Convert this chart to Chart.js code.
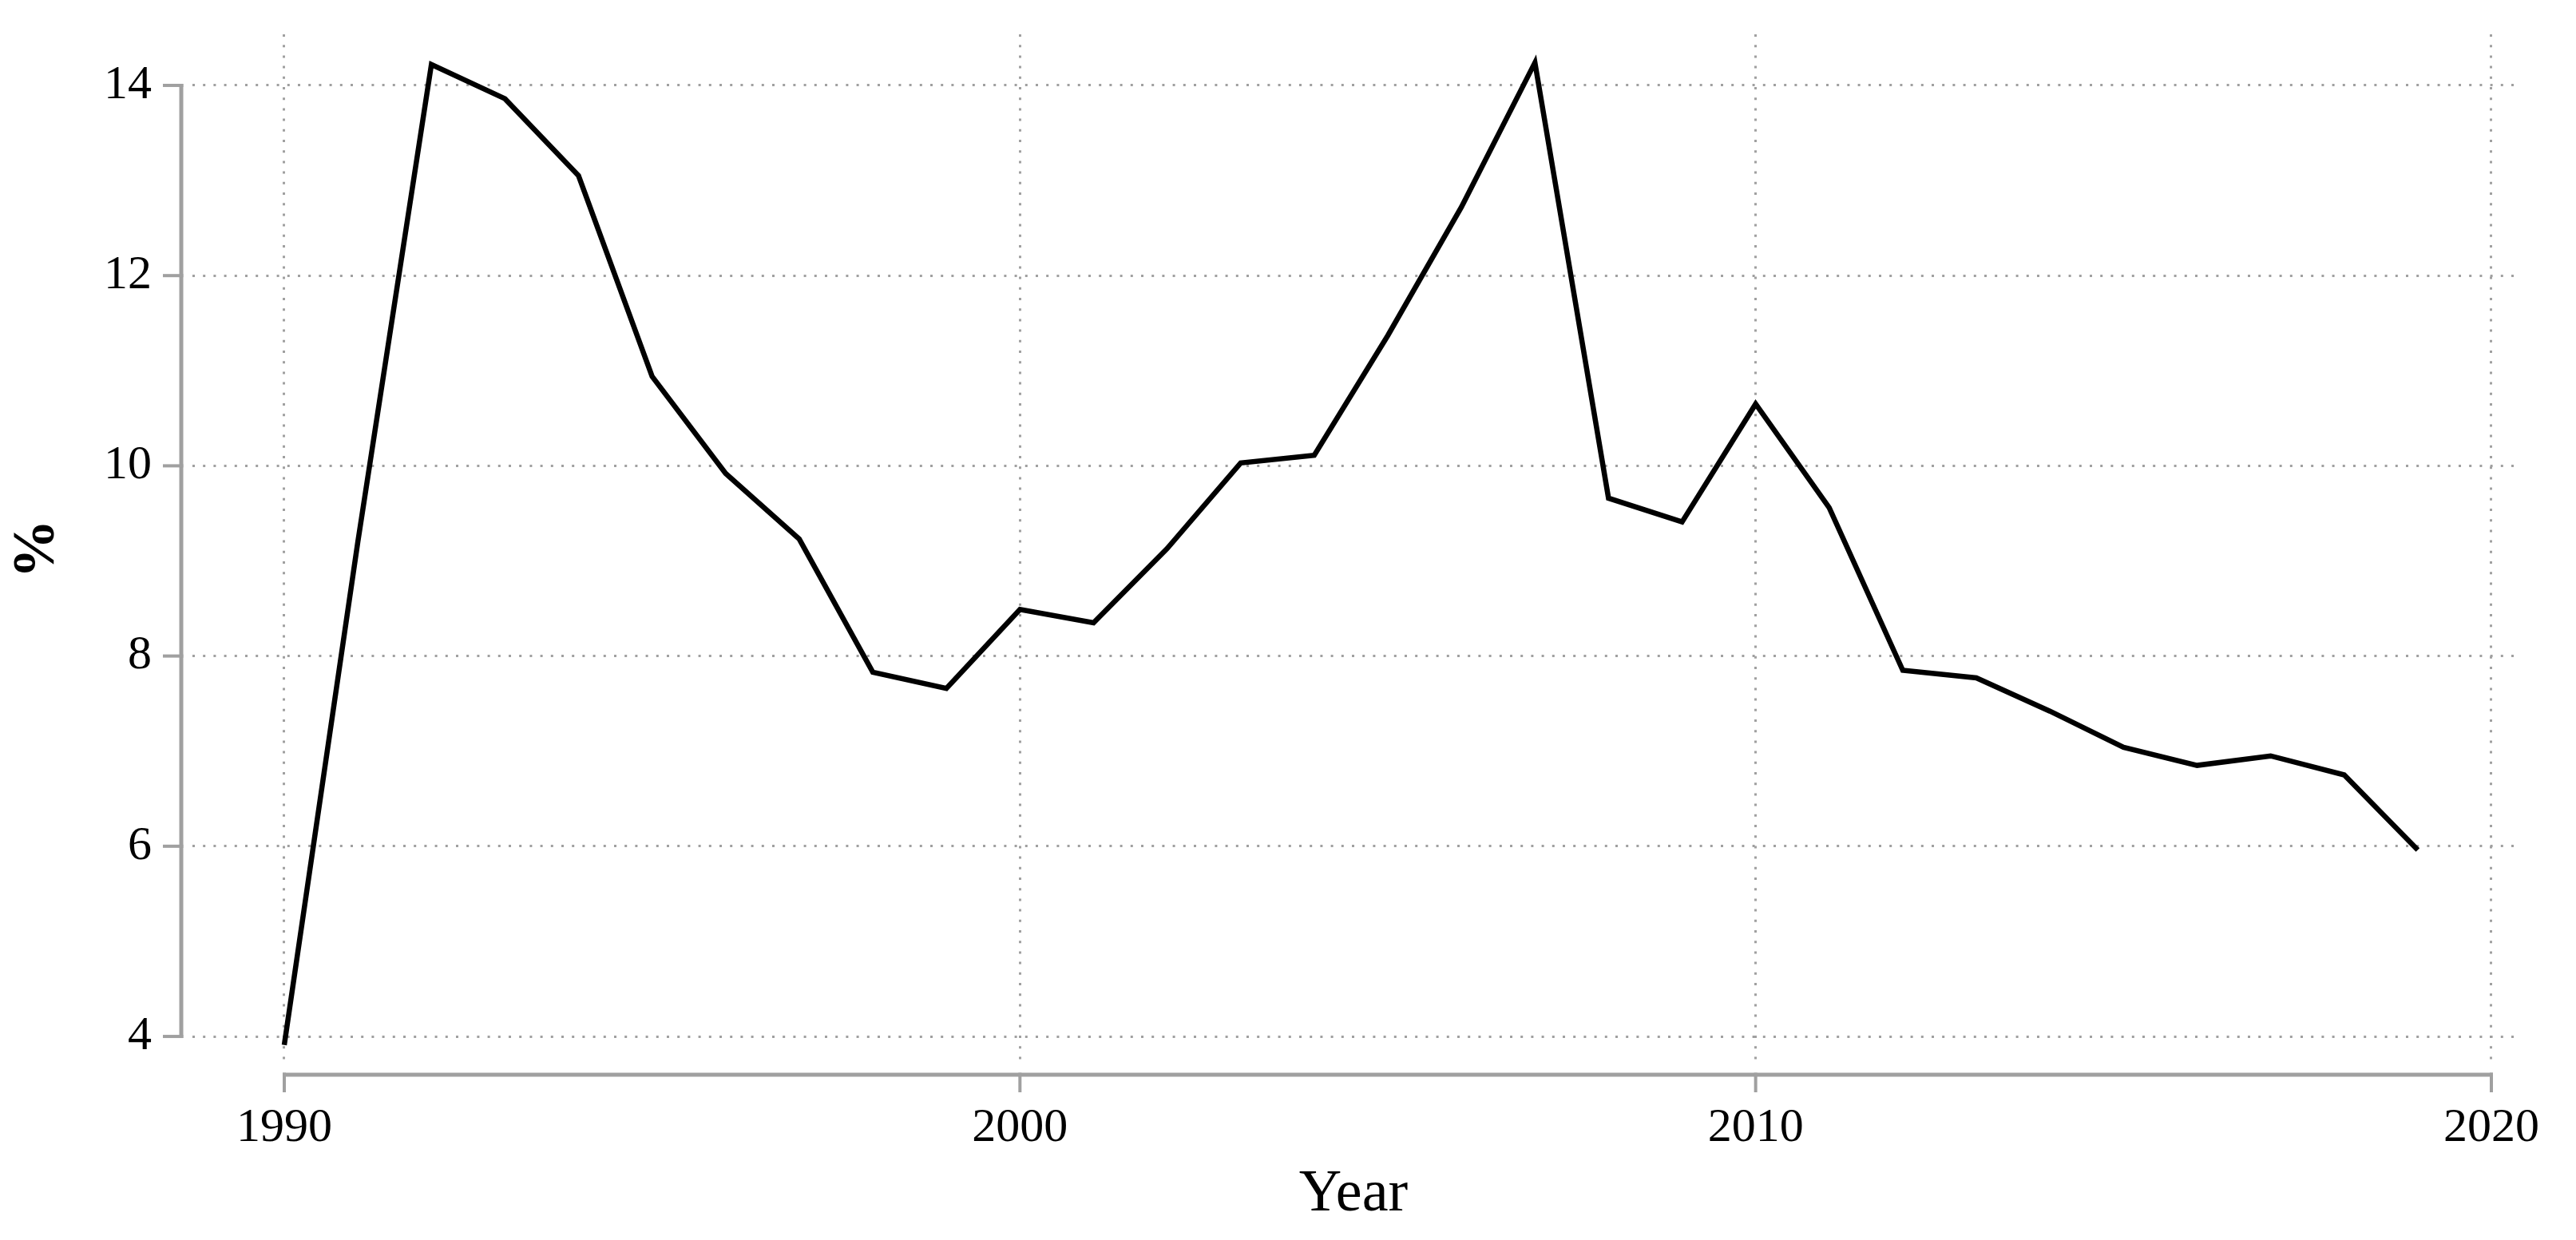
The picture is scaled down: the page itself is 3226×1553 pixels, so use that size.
<!DOCTYPE html>
<html>
<head>
<meta charset="utf-8">
<script src="https://cdn.jsdelivr.net/npm/chart.js@4/dist/chart.umd.min.js"></script>
<style>
  html, body { margin: 0; padding: 0; background: #ffffff; }
  #wrap { width: 3226px; height: 1553px; }
</style>
</head>
<body>
<div id="wrap"><canvas id="c" width="3226" height="1553"></canvas></div>
<script>
// ---- data ----
const years = [1990,1991,1992,1993,1994,1995,1996,1997,1998,1999,2000,2001,2002,2003,2004,2005,2006,2007,2008,2009,2010,2011,2012,2013,2014,2015,2016,2017,2018,2019];
const values = [3.91,9.2,14.22,13.86,13.05,10.94,9.92,9.23,7.83,7.66,8.49,8.35,9.13,10.03,10.11,11.37,12.72,14.24,9.66,9.41,10.65,9.56,7.85,7.77,7.42,7.04,6.85,6.95,6.75,5.96];
const xTicks = [1990, 2000, 2010, 2020];
const yTicks = [4, 6, 8, 10, 12, 14];
const xTitle = "Year";
const yTitle = "%";

const GRAY = '#a0a0a0';
const FONT = "'Liberation Serif', 'Times New Roman', serif";

const axisPlugin = {
  id: 'stataAxes',
  afterDraw(chart) {
    const ctx = chart.ctx;
    const xs = chart.scales.x, ys = chart.scales.y;
    const ca = chart.chartArea;
    ctx.save();
    ctx.strokeStyle = GRAY;
    ctx.lineCap = 'butt';
    // y axis
    const ax = ca.left - 14;
    const yTop = ys.getPixelForValue(yTicks[yTicks.length - 1]);
    const yBot = ys.getPixelForValue(yTicks[0]);
    ctx.lineWidth = 5;
    ctx.beginPath();
    ctx.moveTo(ax, yTop - 2);
    ctx.lineTo(ax, yBot + 2);
    ctx.stroke();
    ctx.lineWidth = 4;
    yTicks.forEach(v => {
      const p = ys.getPixelForValue(v);
      ctx.beginPath();
      ctx.moveTo(ax - 23, p);
      ctx.lineTo(ax + 2.5, p);
      ctx.stroke();
    });
    // x axis
    const ay = ca.bottom + 14;
    const xL = xs.getPixelForValue(xTicks[0]);
    const xR = xs.getPixelForValue(xTicks[xTicks.length - 1]);
    ctx.lineWidth = 5;
    ctx.beginPath();
    ctx.moveTo(xL - 2, ay);
    ctx.lineTo(xR + 2, ay);
    ctx.stroke();
    ctx.lineWidth = 4;
    xTicks.forEach(v => {
      const p = xs.getPixelForValue(v);
      ctx.beginPath();
      ctx.moveTo(p, ay - 2.5);
      ctx.lineTo(p, ay + 22);
      ctx.stroke();
    });
    ctx.restore();
  }
};

new Chart(document.getElementById('c'), {
  type: 'line',
  data: {
    datasets: [{
      data: years.map((y, i) => ({ x: y, y: values[i] })),
      borderColor: '#000000',
      borderWidth: 6.5,
      borderJoinStyle: 'miter',
      borderCapStyle: 'butt',
      pointRadius: 0,
      tension: 0,
      fill: false
    }]
  },
  options: {
    responsive: false,
    animation: false,
    devicePixelRatio: 1,
    layout: { padding: { left: 0, top: 43, right: 77, bottom: 0 } },
    plugins: { legend: { display: false }, tooltip: { enabled: false } },
    scales: {
      x: {
        type: 'linear',
        min: 1988.752,
        max: 2020.315,
        afterBuildTicks: s => { s.ticks = xTicks.map(v => ({ value: v })); },
        afterFit: s => { s.height = 221; },
        grid: { color: GRAY, lineWidth: 3, drawTicks: true, tickLength: 45, tickColor: 'rgba(0,0,0,0)', drawOnChartArea: true },
        border: { display: false, dash: [3, 10.2] },
        ticks: {
          color: '#000000',
          padding: 0,
          maxRotation: 0,
          autoSkip: false,
          font: { family: FONT, size: 60, lineHeight: 1.2 },
          callback: v => String(v)
        },
        title: {
          display: true,
          text: xTitle,
          color: '#000000',
          font: { family: FONT, size: 74, lineHeight: 1.2 },
          padding: { top: 0, bottom: 11.6 }
        }
      },
      y: {
        type: 'linear',
        min: 3.715,
        max: 14.537,
        afterBuildTicks: s => { s.ticks = yTicks.map(v => ({ value: v })); },
        afterFit: s => { s.width = 241; },
        grid: { color: GRAY, lineWidth: 3, drawTicks: true, tickLength: 51, tickColor: 'rgba(0,0,0,0)', drawOnChartArea: true },
        border: { display: false, dash: [3, 10.2] },
        ticks: {
          color: '#000000',
          padding: 0,
          autoSkip: false,
          font: { family: FONT, size: 60, lineHeight: 1.2 },
          callback: v => String(v)
        },
        title: {
          display: true,
          text: yTitle,
          color: '#000000',
          font: { family: FONT, size: 74, weight: 'bold', lineHeight: 1.2 },
          padding: { top: 3, bottom: 0 }
        }
      }
    }
  },
  plugins: [axisPlugin]
});
</script>
</body>
</html>
